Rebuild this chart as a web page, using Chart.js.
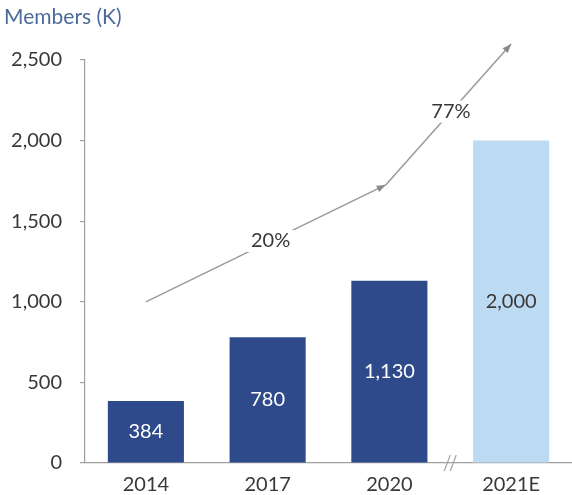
<!DOCTYPE html>
<html>
<head>
<meta charset="utf-8">
<script src="https://cdn.jsdelivr.net/npm/chart.js@4/dist/chart.umd.min.js"></script>
<style>
  html, body { margin: 0; padding: 0; background: #fff; }
  #wrap { width: 572px; height: 495px; position: relative; }
</style>
</head>
<body>
<div id="wrap"><canvas id="chart-members"></canvas></div>
<script>
(function () {
  const years = ["2014", "2017", "2020", "2021E"];
  const members = [384, 780, 1130, 2000];
  const yTicks = [0, 500, 1000, 1500, 2000, 2500];

  // growth arrow: vertices in (category index, value) and the rates written on it
  const trendX = [0, 1.97, 3];
  const trendY = [1000, 1725, 2600];
  const trendLabels = ["20%", "77%"];

  const dark = "#2e4a8b";
  const light = "#bddaf3";
  const axis = "#a0a0a0";
  const text = "#383838";
  const font = "Lato, 'Open Sans', sans-serif";

  const overlay = {
    id: "overlay",
    afterDatasetsDraw(chart) {
      const { ctx, scales: { x, y } } = chart;
      ctx.save();

      // title
      ctx.fillStyle = "#4b6b9b";
      ctx.font = `21px ${font}`;
      ctx.textAlign = "left";
      ctx.textBaseline = "middle";
      ctx.fillText("Members (K)", 4, 17);

      // value labels in the middle of each bar
      ctx.font = `20px ${font}`;
      ctx.textAlign = "center";
      chart.getDatasetMeta(0).data.forEach((bar, i) => {
        ctx.fillStyle = i === members.length - 1 ? text : "#ffffff";
        ctx.fillText(members[i].toLocaleString("en-US"), bar.x, (bar.y + bar.base) / 2);
      });

      // axis break between 2020 and 2021E
      const bx = (x.getPixelForValue(2) + x.getPixelForValue(3)) / 2;
      const by = y.getPixelForValue(0);
      ctx.strokeStyle = axis;
      ctx.lineWidth = 1.2;
      [-3, 3].forEach((d) => {
        ctx.beginPath();
        ctx.moveTo(bx + d - 3, by + 8);
        ctx.lineTo(bx + d + 3, by - 8);
        ctx.stroke();
      });

      // growth arrow
      const pts = trendX.map((v, i) => ({ x: x.getPixelForValue(v), y: y.getPixelForValue(trendY[i]) }));
      ctx.strokeStyle = "#9a9a9a";
      ctx.lineWidth = 1.5;
      for (let i = 0; i < pts.length - 1; i++) {
        const a = pts[i], b = pts[i + 1];
        ctx.beginPath();
        ctx.moveTo(a.x, a.y);
        ctx.lineTo(b.x, b.y);
        ctx.stroke();

        const ang = Math.atan2(b.y - a.y, b.x - a.x);
        ctx.fillStyle = "#8a8a8a";
        ctx.beginPath();
        ctx.moveTo(b.x, b.y);
        ctx.lineTo(b.x - 9 * Math.cos(ang) + 3.5 * Math.sin(ang), b.y - 9 * Math.sin(ang) - 3.5 * Math.cos(ang));
        ctx.lineTo(b.x - 9 * Math.cos(ang) - 3.5 * Math.sin(ang), b.y - 9 * Math.sin(ang) + 3.5 * Math.cos(ang));
        ctx.closePath();
        ctx.fill();

        const mx = a.x + (b.x - a.x) * 0.52;
        const my = a.y + (b.y - a.y) * 0.52;
        ctx.font = `20px ${font}`;
        const w = ctx.measureText(trendLabels[i]).width;
        ctx.fillStyle = "#ffffff";
        ctx.fillRect(mx - w / 2 - 5, my - 11, w + 10, 22);
        ctx.fillStyle = text;
        ctx.fillText(trendLabels[i], mx, my);
      }
      ctx.restore();
    },
  };

  new Chart(document.getElementById("chart-members"), {
    type: "bar",
    data: {
      labels: years,
      datasets: [
        {
          data: members,
          backgroundColor: members.map((_, i) => (i === members.length - 1 ? light : dark)),
          borderWidth: 0,
          categoryPercentage: 1,
          barPercentage: 0.625,
        },
      ],
    },
    options: {
      responsive: true,
      maintainAspectRatio: false,
      animation: false,
      layout: { padding: { top: 60, right: 0, left: 0, bottom: 0 } },
      plugins: { legend: { display: false }, tooltip: { enabled: false } },
      scales: {
        x: {
          grid: { display: false },
          border: { color: axis, width: 1.2 },
          ticks: { color: text, font: { family: font, size: 20 }, padding: 2 },
          afterFit(scale) { scale.height = 32; },
        },
        y: {
          min: 0,
          max: 2500,
          afterBuildTicks(scale) { scale.ticks = yTicks.map((v) => ({ value: v })); },
          grid: { drawOnChartArea: false, drawTicks: true, tickLength: 5, color: axis, lineWidth: 1.2 },
          border: { color: axis, width: 1.2 },
          ticks: {
            color: text,
            font: { family: font, size: 20 },
            padding: 18,
            callback: (v) => v.toLocaleString("en-US"),
          },
          afterFit(scale) { scale.width = 85; },
        },
      },
    },
    plugins: [overlay],
  });
})();
</script>
</body>
</html>
